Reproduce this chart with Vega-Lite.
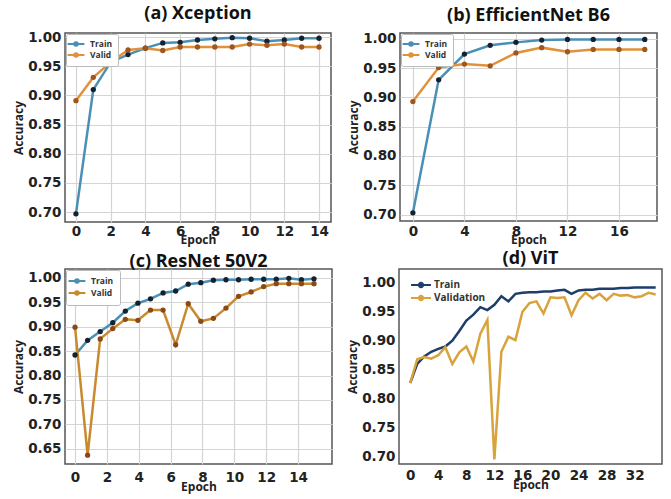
{
  "$schema": "https://vega.github.io/schema/vega-lite/v6.json",
  "padding": {"left": 11, "top": 4, "right": 0, "bottom": 0},
  "background": "white",
  "spacing": 2,
  "datasets": {
    "a": [
      {"epoch": 0, "acc": 0.697, "set": "Train"}, {"epoch": 1, "acc": 0.910, "set": "Train"}, {"epoch": 2, "acc": 0.957, "set": "Train"}, {"epoch": 3, "acc": 0.970, "set": "Train"}, {"epoch": 4, "acc": 0.981, "set": "Train"}, {"epoch": 5, "acc": 0.990, "set": "Train"}, {"epoch": 6, "acc": 0.991, "set": "Train"}, {"epoch": 7, "acc": 0.995, "set": "Train"}, {"epoch": 8, "acc": 0.997, "set": "Train"}, {"epoch": 9, "acc": 0.999, "set": "Train"}, {"epoch": 10, "acc": 0.998, "set": "Train"}, {"epoch": 11, "acc": 0.993, "set": "Train"}, {"epoch": 12, "acc": 0.995, "set": "Train"}, {"epoch": 13, "acc": 0.998, "set": "Train"}, {"epoch": 14, "acc": 0.998, "set": "Train"},
      {"epoch": 0, "acc": 0.891, "set": "Valid"}, {"epoch": 1, "acc": 0.931, "set": "Valid"}, {"epoch": 2, "acc": 0.957, "set": "Valid"}, {"epoch": 3, "acc": 0.978, "set": "Valid"}, {"epoch": 4, "acc": 0.981, "set": "Valid"}, {"epoch": 5, "acc": 0.977, "set": "Valid"}, {"epoch": 6, "acc": 0.983, "set": "Valid"}, {"epoch": 7, "acc": 0.983, "set": "Valid"}, {"epoch": 8, "acc": 0.983, "set": "Valid"}, {"epoch": 9, "acc": 0.983, "set": "Valid"}, {"epoch": 10, "acc": 0.988, "set": "Valid"}, {"epoch": 11, "acc": 0.986, "set": "Valid"}, {"epoch": 12, "acc": 0.988, "set": "Valid"}, {"epoch": 13, "acc": 0.983, "set": "Valid"}, {"epoch": 14, "acc": 0.983, "set": "Valid"}
    ],
    "b": [
      {"epoch": 0, "acc": 0.703, "set": "Train"}, {"epoch": 2, "acc": 0.930, "set": "Train"}, {"epoch": 4, "acc": 0.974, "set": "Train"}, {"epoch": 6, "acc": 0.989, "set": "Train"}, {"epoch": 8, "acc": 0.994, "set": "Train"}, {"epoch": 10, "acc": 0.998, "set": "Train"}, {"epoch": 12, "acc": 0.999, "set": "Train"}, {"epoch": 14, "acc": 0.999, "set": "Train"}, {"epoch": 16, "acc": 0.999, "set": "Train"}, {"epoch": 18, "acc": 0.999, "set": "Train"},
      {"epoch": 0, "acc": 0.893, "set": "Valid"}, {"epoch": 2, "acc": 0.951, "set": "Valid"}, {"epoch": 4, "acc": 0.957, "set": "Valid"}, {"epoch": 6, "acc": 0.954, "set": "Valid"}, {"epoch": 8, "acc": 0.976, "set": "Valid"}, {"epoch": 10, "acc": 0.985, "set": "Valid"}, {"epoch": 12, "acc": 0.978, "set": "Valid"}, {"epoch": 14, "acc": 0.982, "set": "Valid"}, {"epoch": 16, "acc": 0.982, "set": "Valid"}, {"epoch": 18, "acc": 0.982, "set": "Valid"}
    ],
    "c": [
      {"epoch": 0, "acc": 0.842, "set": "Train"}, {"epoch": 0.789, "acc": 0.872, "set": "Train"}, {"epoch": 1.579, "acc": 0.890, "set": "Train"}, {"epoch": 2.368, "acc": 0.908, "set": "Train"}, {"epoch": 3.158, "acc": 0.932, "set": "Train"}, {"epoch": 3.947, "acc": 0.948, "set": "Train"}, {"epoch": 4.737, "acc": 0.957, "set": "Train"}, {"epoch": 5.526, "acc": 0.969, "set": "Train"}, {"epoch": 6.316, "acc": 0.973, "set": "Train"}, {"epoch": 7.105, "acc": 0.987, "set": "Train"}, {"epoch": 7.895, "acc": 0.990, "set": "Train"}, {"epoch": 8.684, "acc": 0.995, "set": "Train"}, {"epoch": 9.474, "acc": 0.996, "set": "Train"}, {"epoch": 10.263, "acc": 0.996, "set": "Train"}, {"epoch": 11.053, "acc": 0.997, "set": "Train"}, {"epoch": 11.842, "acc": 0.997, "set": "Train"}, {"epoch": 12.632, "acc": 0.997, "set": "Train"}, {"epoch": 13.421, "acc": 0.999, "set": "Train"}, {"epoch": 14.211, "acc": 0.996, "set": "Train"}, {"epoch": 15, "acc": 0.998, "set": "Train"},
      {"epoch": 0, "acc": 0.899, "set": "Valid"}, {"epoch": 0.789, "acc": 0.637, "set": "Valid"}, {"epoch": 1.579, "acc": 0.875, "set": "Valid"}, {"epoch": 2.368, "acc": 0.896, "set": "Valid"}, {"epoch": 3.158, "acc": 0.915, "set": "Valid"}, {"epoch": 3.947, "acc": 0.913, "set": "Valid"}, {"epoch": 4.737, "acc": 0.934, "set": "Valid"}, {"epoch": 5.526, "acc": 0.934, "set": "Valid"}, {"epoch": 6.316, "acc": 0.863, "set": "Valid"}, {"epoch": 7.105, "acc": 0.947, "set": "Valid"}, {"epoch": 7.895, "acc": 0.911, "set": "Valid"}, {"epoch": 8.684, "acc": 0.917, "set": "Valid"}, {"epoch": 9.474, "acc": 0.938, "set": "Valid"}, {"epoch": 10.263, "acc": 0.962, "set": "Valid"}, {"epoch": 11.053, "acc": 0.971, "set": "Valid"}, {"epoch": 11.842, "acc": 0.982, "set": "Valid"}, {"epoch": 12.632, "acc": 0.988, "set": "Valid"}, {"epoch": 13.421, "acc": 0.988, "set": "Valid"}, {"epoch": 14.211, "acc": 0.988, "set": "Valid"}, {"epoch": 15, "acc": 0.988, "set": "Valid"}
    ],
    "d": [
      {"epoch": 0, "acc": 0.827, "set": "Train"}, {"epoch": 1, "acc": 0.860, "set": "Train"}, {"epoch": 2, "acc": 0.873, "set": "Train"}, {"epoch": 3, "acc": 0.881, "set": "Train"}, {"epoch": 4, "acc": 0.886, "set": "Train"}, {"epoch": 5, "acc": 0.890, "set": "Train"}, {"epoch": 6, "acc": 0.900, "set": "Train"}, {"epoch": 7, "acc": 0.917, "set": "Train"}, {"epoch": 8, "acc": 0.935, "set": "Train"}, {"epoch": 9, "acc": 0.945, "set": "Train"}, {"epoch": 10, "acc": 0.958, "set": "Train"}, {"epoch": 11, "acc": 0.953, "set": "Train"}, {"epoch": 12, "acc": 0.962, "set": "Train"}, {"epoch": 13, "acc": 0.977, "set": "Train"}, {"epoch": 14, "acc": 0.968, "set": "Train"}, {"epoch": 15, "acc": 0.981, "set": "Train"}, {"epoch": 16, "acc": 0.983, "set": "Train"}, {"epoch": 17, "acc": 0.984, "set": "Train"}, {"epoch": 18, "acc": 0.984, "set": "Train"}, {"epoch": 19, "acc": 0.985, "set": "Train"}, {"epoch": 20, "acc": 0.985, "set": "Train"}, {"epoch": 21, "acc": 0.987, "set": "Train"}, {"epoch": 22, "acc": 0.988, "set": "Train"}, {"epoch": 23, "acc": 0.981, "set": "Train"}, {"epoch": 24, "acc": 0.987, "set": "Train"}, {"epoch": 25, "acc": 0.988, "set": "Train"}, {"epoch": 26, "acc": 0.988, "set": "Train"}, {"epoch": 27, "acc": 0.990, "set": "Train"}, {"epoch": 28, "acc": 0.990, "set": "Train"}, {"epoch": 29, "acc": 0.990, "set": "Train"}, {"epoch": 30, "acc": 0.991, "set": "Train"}, {"epoch": 31, "acc": 0.991, "set": "Train"}, {"epoch": 32, "acc": 0.992, "set": "Train"}, {"epoch": 33, "acc": 0.992, "set": "Train"}, {"epoch": 34, "acc": 0.992, "set": "Train"}, {"epoch": 35, "acc": 0.992, "set": "Train"},
      {"epoch": 0, "acc": 0.827, "set": "Validation"}, {"epoch": 1, "acc": 0.868, "set": "Validation"}, {"epoch": 2, "acc": 0.872, "set": "Validation"}, {"epoch": 3, "acc": 0.869, "set": "Validation"}, {"epoch": 4, "acc": 0.875, "set": "Validation"}, {"epoch": 5, "acc": 0.889, "set": "Validation"}, {"epoch": 6, "acc": 0.860, "set": "Validation"}, {"epoch": 7, "acc": 0.880, "set": "Validation"}, {"epoch": 8, "acc": 0.890, "set": "Validation"}, {"epoch": 9, "acc": 0.864, "set": "Validation"}, {"epoch": 10, "acc": 0.912, "set": "Validation"}, {"epoch": 11, "acc": 0.936, "set": "Validation"}, {"epoch": 12, "acc": 0.695, "set": "Validation"}, {"epoch": 13, "acc": 0.881, "set": "Validation"}, {"epoch": 14, "acc": 0.907, "set": "Validation"}, {"epoch": 15, "acc": 0.901, "set": "Validation"}, {"epoch": 16, "acc": 0.950, "set": "Validation"}, {"epoch": 17, "acc": 0.965, "set": "Validation"}, {"epoch": 18, "acc": 0.968, "set": "Validation"}, {"epoch": 19, "acc": 0.947, "set": "Validation"}, {"epoch": 20, "acc": 0.975, "set": "Validation"}, {"epoch": 21, "acc": 0.974, "set": "Validation"}, {"epoch": 22, "acc": 0.975, "set": "Validation"}, {"epoch": 23, "acc": 0.944, "set": "Validation"}, {"epoch": 24, "acc": 0.970, "set": "Validation"}, {"epoch": 25, "acc": 0.983, "set": "Validation"}, {"epoch": 26, "acc": 0.973, "set": "Validation"}, {"epoch": 27, "acc": 0.981, "set": "Validation"}, {"epoch": 28, "acc": 0.970, "set": "Validation"}, {"epoch": 29, "acc": 0.981, "set": "Validation"}, {"epoch": 30, "acc": 0.978, "set": "Validation"}, {"epoch": 31, "acc": 0.979, "set": "Validation"}, {"epoch": 32, "acc": 0.975, "set": "Validation"}, {"epoch": 33, "acc": 0.977, "set": "Validation"}, {"epoch": 34, "acc": 0.983, "set": "Validation"}, {"epoch": 35, "acc": 0.980, "set": "Validation"}
    ]
  },
  "vconcat": [
    {
      "hconcat": [
        {
          "width": 266, "height": 189,
          "title": {"text": "(a)  Xception", "frame": "group", "offset": 7},
          "data": {"name": "a"},
          "encoding": {
            "x": {"field": "epoch", "type": "quantitative", "scale": {"domain": [-0.63, 14.69], "nice": false, "zero": false}, "axis": {"values": [0, 2, 4, 6, 8, 10, 12, 14], "title": "Epoch", "labelPadding": 2, "titlePadding": -3}},
            "y": {"field": "acc", "type": "quantitative", "scale": {"domain": [0.683, 1.007], "nice": false, "zero": false}, "axis": {"values": [0.7, 0.75, 0.8, 0.85, 0.9, 0.95, 1.0], "format": ".2f", "title": "Accuracy", "labelPadding": 4, "titlePadding": 2}}
          },
          "layer": [
            {"mark": {"type": "line", "strokeWidth": 2.5}, "encoding": {"color": {"field": "set", "type": "nominal", "scale": {"domain": ["Train", "Valid"], "range": ["#4a8fb5", "#e0913a"]}, "legend": {"orient": "top-left", "offset": 1, "rowPadding": -4}}}},
            {"mark": {"type": "point", "filled": true, "size": 28, "opacity": 1}, "encoding": {"fill": {"field": "set", "type": "nominal", "scale": {"domain": ["Train", "Valid"], "range": ["#15222e", "#a0561c"]}, "legend": null}}}
          ]
        },
        {
          "width": 257, "height": 188,
          "title": {"text": "(b)  EfficientNet B6", "frame": "group", "offset": 7},
          "data": {"name": "b"},
          "encoding": {
            "x": {"field": "epoch", "type": "quantitative", "scale": {"domain": [-1.0, 18.95], "nice": false, "zero": false}, "axis": {"values": [0, 4, 8, 12, 16], "title": "Epoch", "labelPadding": 3, "titlePadding": -3}},
            "y": {"field": "acc", "type": "quantitative", "scale": {"domain": [0.689, 1.01], "nice": false, "zero": false}, "axis": {"values": [0.7, 0.75, 0.8, 0.85, 0.9, 0.95, 1.0], "format": ".2f", "title": "Accuracy", "labelPadding": 4, "titlePadding": 2}}
          },
          "layer": [
            {"mark": {"type": "line", "strokeWidth": 2.5}, "encoding": {"color": {"field": "set", "type": "nominal", "scale": {"domain": ["Train", "Valid"], "range": ["#4a8fb5", "#e0913a"]}, "legend": {"orient": "top-left", "offset": 1, "rowPadding": -4}}}},
            {"mark": {"type": "point", "filled": true, "size": 28, "opacity": 1}, "encoding": {"fill": {"field": "set", "type": "nominal", "scale": {"domain": ["Train", "Valid"], "range": ["#15222e", "#a0561c"]}, "legend": null}}}
          ]
        }
      ],
      "spacing": 14,
      "resolve": {"scale": {"color": "independent", "fill": "independent", "x": "independent", "y": "independent"}, "legend": {"color": "independent"}}
    },
    {
      "hconcat": [
        {
          "width": 267, "height": 195,
          "title": {"text": "(c)  ResNet 50V2", "frame": "group", "offset": -2},
          "data": {"name": "c"},
          "encoding": {
            "x": {"field": "epoch", "type": "quantitative", "scale": {"domain": [-0.63, 16.13], "nice": false, "zero": false}, "axis": {"values": [0, 2, 4, 6, 8, 10, 12, 14], "title": "Epoch", "labelPadding": 6, "titlePadding": -2}},
            "y": {"field": "acc", "type": "quantitative", "scale": {"domain": [0.619, 1.018], "nice": false, "zero": false}, "axis": {"values": [0.65, 0.7, 0.75, 0.8, 0.85, 0.9, 0.95, 1.0], "format": ".2f", "title": "Accuracy", "labelPadding": 4, "titlePadding": 2}}
          },
          "layer": [
            {"mark": {"type": "line", "strokeWidth": 2.5}, "encoding": {"color": {"field": "set", "type": "nominal", "scale": {"domain": ["Train", "Valid"], "range": ["#4a8fb5", "#c98a2e"]}, "legend": {"orient": "top-left", "offset": 1, "rowPadding": 0, "padding": 6}}}},
            {"mark": {"type": "point", "filled": true, "size": 28, "opacity": 1}, "encoding": {"fill": {"field": "set", "type": "nominal", "scale": {"domain": ["Train", "Valid"], "range": ["#15222e", "#8a4a18"]}, "legend": null}}}
          ]
        },
        {
          "width": 263, "height": 195,
          "title": {"text": "(d)  ViT", "frame": "group", "offset": 1},
          "data": {"name": "d"},
          "encoding": {
            "x": {"field": "epoch", "type": "quantitative", "scale": {"domain": [-1.6, 35.9], "nice": false, "zero": false}, "axis": {"values": [0, 4, 8, 12, 16, 20, 24, 28, 32], "title": "Epoch", "labelPadding": 4, "titlePadding": -2, "grid": false}},
            "y": {"field": "acc", "type": "quantitative", "scale": {"domain": [0.687, 1.024], "nice": false, "zero": false}, "axis": {"values": [0.7, 0.75, 0.8, 0.85, 0.9, 0.95, 1.0], "format": ".2f", "title": "Accuracy", "labelPadding": 4, "titlePadding": 2, "grid": false}}
          },
          "layer": [
            {"mark": {"type": "line", "strokeWidth": 2.5}, "encoding": {"color": {"field": "set", "type": "nominal", "scale": {"domain": ["Train", "Validation"], "range": ["#1d3d6b", "#d8a33c"]}, "legend": {"orient": "top-left", "offset": 5, "strokeColor": "transparent", "fillColor": "transparent", "labelFontSize": 10, "symbolSize": 90, "labelOffset": 7, "symbolOffset": 6, "padding": 5, "rowPadding": -3}}}}
          ]
        }
      ],
      "spacing": 12,
      "resolve": {"scale": {"color": "independent", "fill": "independent", "x": "independent", "y": "independent"}, "legend": {"color": "independent"}}
    }
  ],
  "config": {
    "font": "Open Sans",
    "view": {"stroke": "#555555", "strokeWidth": 1.5},
    "axis": {"labelFont": "DejaVu Sans", "labelFontWeight": "bold", "labelFontSize": 13.5, "labelColor": "#222222", "titleFont": "Open Sans", "titleFontWeight": "bold", "titleFontSize": 12, "titleColor": "#222222", "ticks": false, "tickSize": 0, "domain": false, "gridColor": "#d4d4d4", "gridWidth": 1.2},
    "title": {"font": "Open Sans", "fontSize": 18, "fontWeight": "bold", "color": "#111111"},
    "legend": {"title": null, "padding": 5, "fillColor": "#ffffff", "strokeColor": "#bbbbbb", "labelFont": "Open Sans", "labelFontWeight": "bold", "labelFontSize": 8.5, "labelColor": "#333333", "symbolType": "M-2.1,0L2.1,0M-0.45,0A0.45,0.45,0,1,0,0.45,0A0.45,0.45,0,1,0,-0.45,0Z", "symbolSize": 64, "symbolStrokeWidth": 2, "rowPadding": 1, "labelOffset": 9, "cornerRadius": 2}
  }
}
